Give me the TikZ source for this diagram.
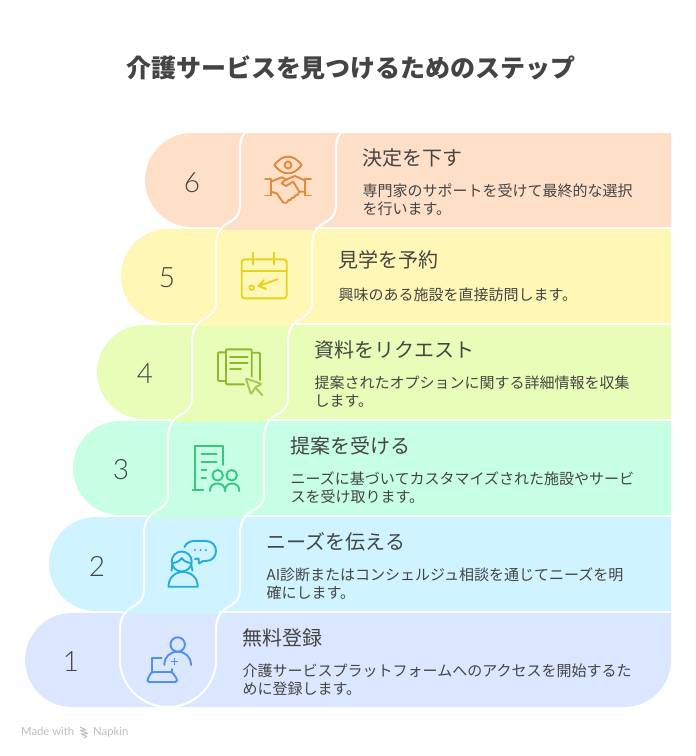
\documentclass[tikz,border=0pt]{standalone}
\usepackage{fontspec}
\setmainfont{Noto Sans CJK JP}
\newfontfamily\numfont{Lato Light}
\newfontfamily\footfont{Lato}
\definecolor{inkgray}{HTML}{444444}
\definecolor{footgray}{HTML}{BDBDBD}
\definecolor{rowa}{HTML}{DBE7FF}
\definecolor{rowb}{HTML}{CFF3FF}
\definecolor{rowc}{HTML}{C6FFE4}
\definecolor{rowd}{HTML}{E8FDB8}
\definecolor{rowe}{HTML}{FFF7B5}
\definecolor{rowf}{HTML}{FEE0C8}
\definecolor{icona}{HTML}{5190EC}
\definecolor{iconb}{HTML}{22ADE0}
\definecolor{iconc}{HTML}{38C682}
\definecolor{icond}{HTML}{8DB92E}
\definecolor{icone}{HTML}{E6D320}
\definecolor{iconf}{HTML}{E6883A}
\tikzset{
  numtext/.style={text=inkgray,inner sep=0pt,font=\numfont\fontsize{28}{28}\selectfont},
  headtext/.style={text=inkgray,inner sep=0pt,anchor=base west,font=\fontsize{20}{24}\selectfont},
  bodytext/.style={text=inkgray,inner sep=0pt,anchor=west,align=left,font=\fontsize{15}{18}\selectfont},
  foottext/.style={text=footgray,inner sep=0pt,anchor=base west,font=\footfont\fontsize{11.3}{13}\selectfont},
  iconline/.style={line width=1.9pt,line cap=round,line join=round},
  seam/.style={draw=white,line width=2pt}
}
\begin{document}
\begin{tikzpicture}[x=1pt,y=-1pt]
\useasboundingbox (0,0) rectangle (696,756);
% bands, lowest first
\fill[rowa] (671,613) [rounded corners=47pt] -- (25,613) -- (25,707) -- (671,707) [sharp corners] -- cycle;
\foreach \r/\shade in {1/rowb,2/rowc,3/rowd,4/rowe,5/rowf}{
  \begin{scope}[shift={(24*\r,-96*\r)}]
    \fill[\shade] (671-24*\r,613) [rounded corners=47pt] -- (25,613) -- (25,707) [sharp corners] -- (671-24*\r,707) -- cycle;
    % neck down to the next band
    \fill[\shade] (99,705) rectangle (195,709.5);
  \end{scope}
}
% white seams
\foreach \r in {0,1,2,3,4}{
  \begin{scope}[shift={(24*\r,-96*\r)}]
    \foreach \dx in {0,96}{
      \draw[seam,xshift=\dx pt] (120,630) .. controls (120,617) and (125,611) .. (132,607) .. controls (139,603) and (144,600) .. (144,588) -- (144,534);
    }
  \end{scope}
}
\draw[seam] (120,630) -- (120,660) .. controls (120,686) and (142,707) .. (168,707) .. controls (194,707) and (216,686) .. (216,660) -- (216,630);
\draw[seam] (245,133) .. controls (241,137) and (240,142) .. (240,150);
\draw[seam] (341,133) .. controls (337,137) and (336,142) .. (336,150);
% title
\node[text=inkgray,inner sep=0pt,font=\bfseries\fontsize{25}{30}\selectfont] (title) at (351,67.5) {介護サービスを見つけるためのステップ};
% step 1
\node[numtext] (numa) at (71,662) {1};
\node[headtext] (heada) at (242.5,645) {無料登録};
\node[bodytext] (bodya) at (242.5,679.5) {介護サービスプラットフォームへのアクセスを開始するた\\めに登録します。};
% step 2
\node[numtext] (numb) at (97,566) {2};
\node[headtext] (headb) at (266.5,549) {ニーズを伝える};
\node[bodytext] (bodyb) at (266.5,583.5) {AI診断またはコンシェルジュ相談を通じてニーズを明\\確にします。};
% step 3
\node[numtext] (numc) at (121,470) {3};
\node[headtext] (headc) at (290.5,453) {提案を受ける};
\node[bodytext] (bodyc) at (290.5,487.5) {ニーズに基づいてカスタマイズされた施設やサービ\\スを受け取ります。};
% step 4
\node[numtext] (numd) at (145,374) {4};
\node[headtext] (headd) at (314.5,357) {資料をリクエスト};
\node[bodytext] (bodyd) at (314.5,391.5) {提案されたオプションに関する詳細情報を収集\\します。};
% step 5
\node[numtext] (nume) at (167,278) {5};
\node[headtext] (heade) at (338.5,267) {見学を予約};
\node[bodytext] (bodye) at (338.5,295) {興味のある施設を直接訪問します。};
% step 6
\node[numtext] (numf) at (192,183) {6};
\node[headtext] (headf) at (362.5,165) {決定を下す};
\node[bodytext] (bodyf) at (362.5,199.5) {専門家のサポートを受けて最終的な選択\\を行います。};
% icon 1
\begin{scope}[iconline,draw=icona]
  \draw (177.7,644.5) circle (7.2);
  \draw (164.3,665) .. controls (164.3,657) and (170,651.7) .. (177.7,651.7) .. controls (185.4,651.7) and (191,657) .. (191,665);
  \draw (174.5,658.5) -- (174.5,664.5) (171.5,661.5) -- (177.5,661.5);
  \draw (161.7,658.3) -- (151.7,658.3) -- (151.7,672);
  \draw[rounded corners=1.5pt] (151.7,672) -- (147.5,679) -- (147.5,682) -- (177,682) -- (177,679) -- (172,672) -- cycle;
  \draw (171.7,669) -- (171.7,672);
\end{scope}
% icon 2
\begin{scope}[iconline,draw=iconb]
  \draw (184.5,547) .. controls (186,543) and (190,541) .. (194,541) -- (206,541) .. controls (212,541) and (216,545.5) .. (216,551) .. controls (216,556.5) and (212,561) .. (206,561) -- (203,561) -- (199,563.5) -- (198.5,558.5) -- (195,559);
  \fill[iconb] (195,550) circle (1.2) (200.5,550) circle (1.2) (205.8,550) circle (1.2);
  \draw (181.7,561.5) circle (10);
  \draw (172,563) .. controls (176,563) and (180,561) .. (181.7,558) .. controls (183.5,561) and (187.5,563) .. (191.5,563);
  \draw (172.5,564) -- (171.5,570.5) (191,564) -- (192.5,570.5);
  \draw (168.5,586.7) .. controls (168.5,578) and (174.5,572) .. (183,572) .. controls (191.5,572) and (197.7,578) .. (197.7,586.7) -- cycle;
\end{scope}
% icon 3
\begin{scope}[iconline,draw=iconc]
  \draw (192.7,490) -- (203.3,490) (195.3,490) -- (195.3,446) -- (222.7,446) -- (222.7,465);
  \draw (201.7,454) -- (216.7,454) (201.7,461.7) -- (216.7,461.7) (201.7,470) -- (206.5,470) (201.7,478) -- (206,478);
  \draw (217.7,475.3) circle (5.3) (231.7,475.3) circle (5.3);
  \draw (210,491) .. controls (210,486) and (213,483.5) .. (217.5,483.5) .. controls (222,483.5) and (225,486) .. (225,491);
  \draw (225,491) .. controls (225,486) and (228,483.5) .. (232,483.5) .. controls (236.5,483.5) and (239.3,486) .. (239.3,491);
\end{scope}
% icon 4
\begin{scope}[iconline,draw=icond]
  \draw[rounded corners=1pt] (244,384.3) -- (226,384.3) -- (226,349.3) -- (251.7,349.3) -- (251.7,376.5);
  \draw (230,356.7) -- (247.7,356.7) (230,362.7) -- (247.7,362.7) (230,369) -- (241,369);
  \draw[rounded corners=1pt] (226,352.3) -- (218,352.3) -- (218,381) -- (226,381);
  \draw[rounded corners=1pt] (251.7,352.7) -- (260,352.7) -- (260,380);
  \draw[color=icond!80!white,rounded corners=1pt] (245.7,378.3) -- (261.7,384) -- (255.7,387) -- (251,394.3) -- cycle;
  \draw[color=icond!80!white] (255.7,387.7) -- (262.3,395.3);
\end{scope}
% icon 5
\begin{scope}[iconline,draw=icone]
  \draw[rounded corners=3pt] (241.7,259.3) rectangle (286.7,298.3);
  \draw (241.7,271) -- (286.7,271);
  \draw (253.3,252.7) -- (253.3,264.3) (274.3,252.7) -- (274.3,264.3);
  \draw (251.7,287.7) circle (2.3);
  \draw (277.3,279.3) -- (258.5,286) (264,280) -- (258.5,286) -- (266,289);
\end{scope}
% icon 6
\begin{scope}[iconline,draw=iconf]
  \draw (274.3,165) .. controls (279,159) and (283,156.7) .. (288,156.7) .. controls (293,156.7) and (297,159) .. (301.7,165) .. controls (297,171) and (293,173.3) .. (288,173.3) .. controls (283,173.3) and (279,171) .. (274.3,165) -- cycle;
  \draw (288,165) circle (3.5);
  \draw (265,179.3) -- (270.7,179.3) -- (270.7,195.5) (265,195.5) -- (270.7,195.5);
  \draw (311,179.3) -- (305,179.3) -- (305,195.5) (311,195.5) -- (305,195.5);
  \draw (270.7,181.7) -- (281.7,177.3) -- (286.7,180);
  \draw (305,180.5) -- (295,176) -- (285,180) -- (281.7,183.3) -- (286,186) -- (293.3,181.7) -- (299.3,191.7) -- (305,191.7);
  \draw (270.7,191.7) -- (276.7,193.3) -- (283.3,202.7) -- (286.7,202.7) -- (288.7,200) -- (290.5,200) -- (292,197.7) -- (294,197.5) -- (295.5,195.3) -- (297.5,195) -- (299.3,191.7);
\end{scope}
% footer
\node[foottext] (madewith) at (21,735) {Made with};
\draw[footgray,line width=1pt] (80,727) -- (86,730) (80,730.5) -- (88,733.5) (81,734) -- (87,736.5) (86,730) -- (80,730.5) (88,733.5) -- (81,734) (87,736.5) -- (84,738);
\node[foottext] (napkin) at (93,735) {Napkin};
\end{tikzpicture}
\end{document}
